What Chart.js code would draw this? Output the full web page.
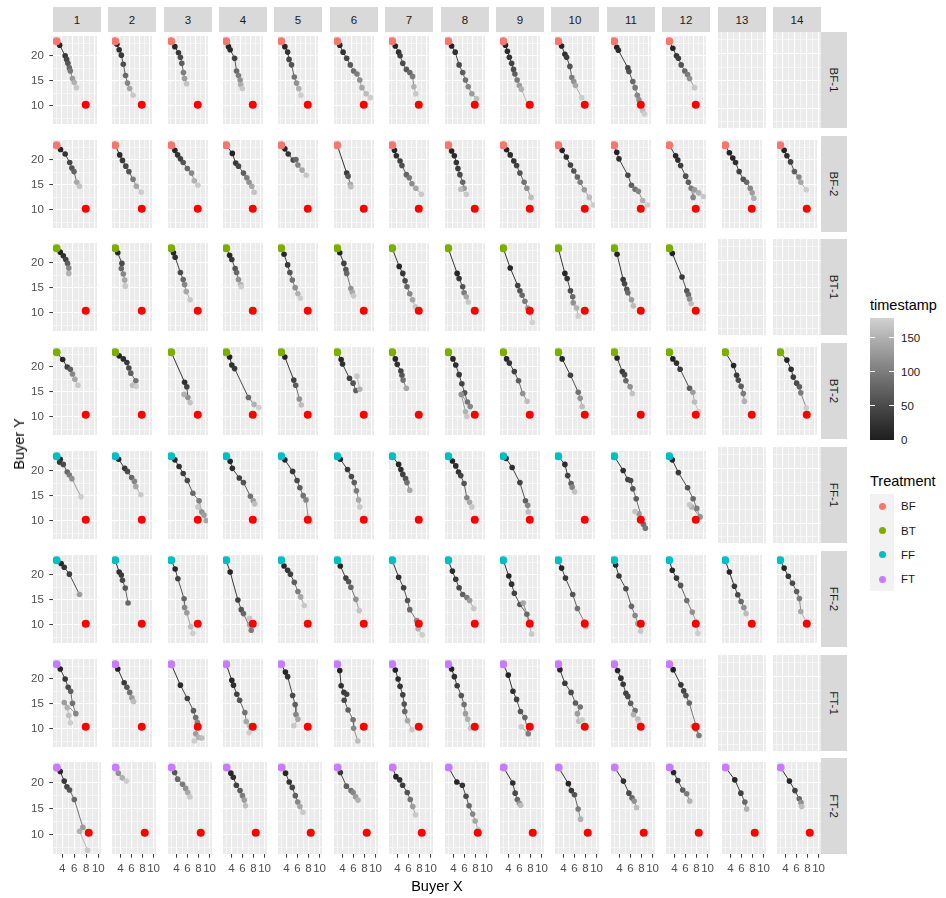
<!DOCTYPE html>
<html>
<head>
<meta charset="utf-8">
<script src="https://cdn.jsdelivr.net/npm/chart.js@4.4.0/dist/chart.umd.min.js"></script>
<style>
  body { margin: 0; background: #fff; width: 946px; height: 898px; position: relative; overflow: hidden;
         font-family: "Liberation Sans", Arial, sans-serif; }
  canvas { position: absolute; }
  .strip { position: absolute; background: #D9D9D9; color: #1A1A1A; font-size: 11.5px;
           display: flex; align-items: center; justify-content: center; }
  .strip span.v { transform: rotate(90deg); white-space: nowrap; display: inline-block; }
  .txt { position: absolute; white-space: nowrap; }
</style>
</head>
<body>
<script>
// ---- facet labels and axis ticks ----
const COLUMNS = ['1','2','3','4','5','6','7','8','9','10','11','12','13','14'];
const ROWS = ['BF-1','BF-2','BT-1','BT-2','FF-1','FF-2','FT-1','FT-2'];
const ROW_TREATMENT = ['BF','BF','BT','BT','FF','FF','FT','FT'];
const TREATMENTS = ['BF','BT','FF','FT'];
const TREATMENT_COLORS = ['#F8766D','#7CAE00','#00BFC4','#C77CFF'];
const X_TICKS = [4, 6, 8, 10];
const X_MINOR = [3, 5, 7, 9];
const Y_TICKS = [10, 15, 20];
const Y_MINOR = [7.5, 12.5, 17.5, 22.5];
const TIME_TICKS = [0, 50, 100, 150];
const TIME_MAX = 179;

// start position and target (seller) position per row
const START = [3.1, 22.9];
const TARGET_X = 8.4;
const TARGET_Y = [10.2, 10.2, 10.4, 10.4, 10.2, 10.2, 10.4, 10.4];

// buyer trajectories: one entry per session column, points are [x, y, timestamp]
const BF1 = [
  [[3.66,22.12,10],[4.66,20.0,30],[4.93,19.27,45],[5.16,18.48,60],[5.43,17.57,80],[5.6,16.96,95],[5.99,15.44,130],[6.32,14.65,150],[6.71,13.62,170]],
  [[3.43,22.3,8],[3.88,21.21,20],[4.32,20.12,35],[4.71,18.3,55],[5.16,16.05,80],[5.54,14.53,110],[5.99,13.44,140],[6.66,12.1,170]],
  [[3.82,21.82,10],[4.54,20.6,30],[4.93,19.69,50],[5.21,18.48,70],[5.54,16.66,100],[5.77,15.44,130],[6.16,14.41,165]],
  [[3.54,21.82,5],[3.88,21.21,15],[4.77,19.51,40],[5.16,16.96,80],[5.54,16.05,100],[5.88,15.14,120],[5.99,14.23,145],[6.32,13.44,170]],
  [[3.82,21.82,10],[4.38,20.73,25],[4.66,19.27,45],[5.16,18.18,60],[5.71,15.75,90],[6.16,14.53,120],[6.6,13.44,150],[7.04,12.1,175]],
  [[3.6,22.12,8],[4.27,20.72,25],[4.99,19.51,45],[5.71,18.17,65],[6.38,16.96,85],[7.04,16.35,100],[7.6,15.14,120],[8.04,13.62,140],[8.88,12.41,160],[9.71,11.62,175]],
  [[3.71,21.94,5],[4.38,20.72,20],[4.66,20.0,35],[5.21,18.48,50],[5.93,17.27,65],[6.6,16.66,80],[7.16,15.87,100],[7.43,13.8,150],[7.82,12.41,170]],
  [[3.77,21.94,5],[4.49,20.72,20],[5.27,18.17,50],[5.99,16.66,70],[6.54,15.14,90],[7.1,13.8,110],[7.82,12.41,130],[8.77,11.38,160]],
  [[3.54,22.12,5],[3.93,20.91,15],[4.32,19.69,25],[4.77,18.48,40],[5.16,17.27,55],[5.43,16.35,70],[5.88,15.14,100],[6.32,14.05,130],[6.71,13.32,150],[8.1,9.98,175]],
  [[3.77,21.94,5],[4.43,20.3,20],[4.77,19.69,35],[5.43,17.87,60],[5.82,15.63,100],[6.21,14.84,120],[6.54,14.05,140],[7.77,11.62,175]],
  [[3.6,21.7,5],[3.93,21.09,15],[5.82,17.57,45],[6.04,16.84,55],[6.82,14.84,80],[7.27,13.62,95],[7.71,12.1,110],[8.04,11.19,120],[8.38,9.98,140],[8.77,9.07,160],[9.16,8.34,175]],
  [[3.82,21.51,10],[4.54,20.0,30],[4.93,19.51,40],[5.49,18.17,60],[6.21,16.96,80],[6.77,16.23,100],[7.16,15.44,120],[8.16,13.62,170]],
  null,
  null
];
const BF2 = [
  [[3.82,22.06,10],[4.66,21.15,25],[5.49,19.45,45],[5.88,18.36,60],[6.27,17.63,75],[6.77,15.5,140],[7.27,14.71,165]],
  [[3.99,20.97,15],[4.54,19.87,30],[5.21,18.72,45],[5.82,17.63,60],[6.66,16.11,100],[7.32,14.71,140],[8.32,13.5,175]],
  [[3.82,21.88,10],[4.38,20.97,25],[4.93,20.18,40],[5.49,19.45,60],[6.32,18.24,80],[7.16,17.33,110],[7.71,15.81,150],[8.43,14.9,170]],
  [[4.32,21.27,5],[4.99,19.33,30],[5.54,18.72,45],[6.54,17.33,70],[7.21,16.41,100],[7.66,15.5,120],[8.21,14.71,140],[8.66,13.5,165]],
  [[3.82,22.18,10],[4.49,21.15,25],[5.49,19.94,50],[6.04,20.06,80],[6.43,18.96,110],[7.27,17.93,140],[8.1,16.9,170]],
  [[4.99,17.33,30],[5.27,16.72,60],[5.71,15.08,140],[5.82,14.59,160]],
  [[3.54,21.88,5],[3.93,20.79,20],[4.66,19.75,40],[5.04,18.84,55],[5.93,17.02,75],[6.49,16.41,95],[7.04,15.2,115],[7.82,14.29,140],[8.93,13.08,170]],
  [[3.77,21.76,5],[4.32,20.79,15],[4.71,19.45,25],[5.04,18.24,35],[5.43,17.02,50],[5.99,15.5,80],[6.27,14.29,130],[5.6,14.11,160],[6.71,13.08,170]],
  [[3.77,22.0,5],[4.49,20.97,15],[5.21,19.75,25],[5.77,18.84,40],[6.43,17.33,60],[7.27,15.5,90],[7.82,14.29,120],[8.66,12.47,160]],
  [[3.88,21.88,5],[4.71,20.54,20],[5.54,18.96,40],[6.21,17.75,60],[6.93,16.54,80],[7.49,15.5,100],[8.32,13.99,130],[9.32,12.47,160],[10.1,10.95,175]],
  [[3.6,21.51,5],[4.04,20.18,20],[5.82,16.9,45],[6.54,14.9,70],[7.27,14.11,90],[7.93,13.68,110],[8.77,11.86,150],[9.71,10.95,175]],
  [[4.38,20.79,10],[4.82,19.94,20],[5.38,18.84,35],[6.38,16.72,55],[6.93,15.5,70],[7.49,14.29,100],[7.88,12.47,110],[8.16,13.99,130],[9.0,13.38,150],[9.93,12.65,170]],
  [[3.93,21.39,5],[4.6,20.36,10],[5.16,19.45,20],[5.88,17.63,40],[6.71,16.11,60],[7.38,15.5,80],[8.1,14.29,110],[8.49,13.38,130],[8.82,12.29,150]],
  [[3.88,21.88,5],[4.43,20.79,20],[5.16,19.57,40],[5.93,17.63,70],[6.82,16.54,110],[7.21,15.5,140],[8.32,13.99,175]]
];
const BT1 = [
  [[3.77,22.12,5],[4.32,21.39,20],[4.77,20.66,40],[5.1,19.87,70],[5.32,18.96,110],[5.32,17.87,150]],
  [[3.6,22.0,10],[4.43,19.87,50],[4.32,18.84,80],[4.71,17.75,110],[4.99,16.54,140],[5.1,15.32,170]],
  [[3.54,22.0,10],[3.88,21.09,20],[4.93,18.06,50],[5.49,16.66,80],[5.77,15.63,110],[6.1,14.23,140],[6.88,12.59,170]],
  [[3.77,21.51,10],[4.21,20.66,30],[4.88,18.84,60],[5.16,18.06,80],[5.54,16.66,120],[5.99,15.63,150],[6.1,15.2,175]],
  [[3.66,21.7,10],[4.38,19.57,30],[4.82,18.06,60],[5.32,16.54,90],[5.88,15.02,120],[6.43,13.8,150],[6.93,12.9,175]],
  [[3.6,22.0,5],[4.43,19.87,40],[4.82,18.66,60],[4.99,17.87,80],[5.82,14.84,120],[6.1,14.11,140],[6.38,13.38,170]],
  [[4.49,19.27,10],[5.21,17.87,30],[5.66,16.41,50],[6.04,15.2,80],[6.6,13.8,110],[7.16,12.59,140],[7.71,11.19,170]],
  [[4.88,17.87,10],[5.27,16.84,30],[5.99,15.2,60],[6.27,13.99,100],[6.71,13.2,140],[7.1,12.16,170]],
  [[4.49,18.96,10],[5.99,15.44,40],[6.43,14.41,60],[6.88,13.5,80],[7.43,12.29,100],[7.99,10.95,130],[8.54,9.98,160],[8.93,8.04,180]],
  [[4.43,17.87,10],[4.88,16.84,25],[5.54,14.41,50],[5.99,13.2,80],[6.1,11.98,120],[6.77,10.95,150],[7.1,9.37,175]],
  [[3.66,21.7,5],[4.88,16.66,30],[5.16,15.81,45],[5.6,14.71,60],[5.82,13.99,80],[6.54,12.59,130],[6.93,11.38,160]],
  [[3.71,21.88,5],[5.66,17.14,30],[6.6,14.41,60],[6.93,13.62,80],[7.16,12.77,120],[7.49,11.8,160]],
  null,
  null
];
const BT2 = [
  [[4.21,21.45,10],[5.04,19.94,40],[5.6,19.51,70],[5.99,18.54,110],[6.43,17.51,140],[6.99,16.29,170]],
  [[3.88,22.18,5],[4.71,21.57,15],[5.43,20.85,30],[5.82,19.75,50],[6.21,18.72,70],[7.21,17.2,90],[6.54,16.29,160],[7.32,16.11,175]],
  [[5.77,16.9,20],[6.21,15.99,40],[6.43,13.86,120],[5.66,14.47,150],[6.88,12.83,165]],
  [[3.77,21.94,5],[4.21,20.36,20],[4.77,19.63,30],[7.54,13.86,80],[8.66,12.47,150],[9.6,11.86,175]],
  [[3.82,21.94,5],[5.6,17.33,40],[5.99,16.29,70],[6.71,13.56,120],[7.1,12.35,160]],
  [[3.88,21.45,10],[4.16,20.54,20],[5.54,17.69,40],[6.27,16.72,60],[6.82,15.26,70],[7.6,15.5,150],[7.04,18.12,170]],
  [[3.71,21.57,10],[4.1,20.48,20],[4.82,19.15,40],[5.04,18.3,60],[5.27,17.33,90],[5.93,15.69,140]],
  [[4.04,21.57,10],[4.6,20.36,20],[5.27,18.42,30],[5.82,16.6,40],[6.38,14.78,60],[6.93,12.95,90],[7.49,12.04,110],[5.71,14.47,120],[6.54,11.01,150],[6.82,10.04,170]],
  [[3.77,21.57,10],[4.32,20.73,25],[5.32,19.03,40],[6.16,17.2,70],[6.99,14.66,120],[7.88,13.08,160]],
  [[3.88,21.57,10],[5.54,18.3,40],[7.1,14.9,90],[7.49,13.68,120],[7.88,12.04,160]],
  [[3.66,21.76,5],[4.71,19.03,30],[5.16,18.42,50],[5.43,17.2,80],[6.27,15.99,120],[6.71,14.66,165]],
  [[3.82,21.57,5],[4.54,20.73,20],[5.27,19.51,35],[7.16,15.69,70],[7.82,14.9,130],[8.16,12.95,160],[8.99,11.01,175]],
  [[4.77,20.24,10],[5.38,18.3,30],[5.71,17.33,50],[6.27,16.11,70],[6.71,14.66,100],[6.93,13.08,150]],
  [[4.43,21.33,5],[5.27,19.51,20],[5.71,17.93,35],[6.38,16.72,50],[6.93,15.99,70],[7.21,14.78,100],[8.32,11.74,175]]
];
const FF1 = [
  [[3.77,22.3,10],[3.66,21.7,30],[4.32,21.27,50],[5.04,19.75,80],[5.43,19.15,100],[5.88,18.42,120],[7.54,14.78,175]],
  [[3.77,22.3,10],[4.99,20.48,30],[5.54,19.87,50],[6.38,18.66,80],[6.93,17.87,110],[7.21,16.84,140],[8.21,15.2,170]],
  [[3.82,22.18,10],[4.66,20.85,20],[5.49,19.45,35],[6.32,18.06,50],[7.43,15.5,80],[8.66,13.99,100],[9.21,11.74,120],[9.66,11.13,130],[10.1,10.04,140],[8.43,12.77,170]],
  [[3.88,21.88,10],[4.32,20.48,20],[5.71,18.54,40],[6.54,17.63,60],[7.93,14.9,90],[8.49,13.99,130],[8.77,13.38,160]],
  [[3.82,22.18,10],[5.38,19.87,30],[6.27,18.06,50],[6.82,16.6,70],[7.49,15.02,90],[8.04,14.17,110],[8.49,10.53,150],[8.93,9.74,175]],
  [[3.71,22.3,5],[5.16,20.24,30],[5.93,18.84,50],[6.49,17.63,70],[6.93,15.99,100],[7.38,14.17,140],[7.6,12.77,170]],
  [[4.38,21.27,10],[4.82,20.24,20],[5.21,19.27,40],[5.77,18.42,60],[6.04,17.63,90],[6.6,16.11,140]],
  [[3.93,21.94,5],[4.6,20.97,15],[5.16,19.75,25],[5.6,19.03,40],[6.27,17.45,60],[6.82,14.6,110],[7.38,13.68,140],[7.82,12.77,170]],
  [[3.66,22.48,5],[4.88,20.66,20],[6.43,17.63,40],[7.54,13.99,70],[7.99,13.08,110],[8.1,11.74,160]],
  [[4.43,21.27,15],[4.99,19.03,40],[5.66,17.45,70],[5.88,16.72,110],[6.38,15.81,165]],
  [[4.88,20.06,20],[5.82,18.24,40],[6.38,18.06,50],[6.82,16.41,60],[7.49,14.41,70],[8.93,9.31,85],[9.32,8.52,95],[8.04,11.38,130],[7.27,11.86,165]],
  [[3.71,22.18,10],[4.93,19.63,30],[6.77,16.6,60],[7.88,14.41,80],[8.6,12.47,100],[9.27,10.77,120],[7.6,12.77,150],[7.16,13.2,170]],
  null,
  null
];
const FF2 = [
  [[3.93,22.24,10],[4.49,21.51,25],[5.43,20.12,40],[7.27,16.05,130]],
  [[3.88,20.54,20],[4.32,19.94,35],[4.54,18.9,50],[5.1,17.33,65],[5.66,14.35,80]],
  [[3.88,21.15,10],[4.43,19.2,40],[5.66,15.2,80],[5.77,13.44,110],[6.21,12.41,130],[6.99,9.62,160],[7.43,8.28,175]],
  [[3.88,20.54,10],[5.43,14.96,40],[6.1,13.02,60],[6.54,12.23,80],[8.1,8.89,100],[7.77,9.98,140],[7.77,11.31,170]],
  [[3.66,21.76,10],[4.38,20.91,25],[4.93,20.12,40],[5.71,18.48,70],[6.43,16.66,100],[6.99,15.57,140],[7.71,13.86,170]],
  [[3.71,21.76,10],[4.82,19.33,40],[5.38,18.6,60],[5.82,17.51,80],[6.82,15.08,120],[7.49,12.83,165]],
  [[4.38,19.51,20],[5.38,17.39,40],[6.16,14.84,60],[6.6,13.02,80],[7.99,10.83,110],[8.27,9.19,150],[9.1,7.98,175]],
  [[3.93,20.73,15],[4.6,19.09,30],[5.27,17.39,50],[5.99,16.05,70],[6.82,15.44,100],[7.38,14.84,130],[8.21,13.26,170]],
  [[4.21,19.75,10],[4.77,18.12,20],[5.32,16.29,40],[6.43,14.05,60],[7.82,12.1,80],[8.38,10.47,100],[7.1,14.35,140],[8.77,8.16,170]],
  [[3.77,21.33,10],[4.54,19.33,30],[5.99,16.05,60],[6.93,13.26,90],[8.32,10.59,130],[8.6,9.62,160]],
  [[3.38,21.94,10],[4.04,19.75,30],[5.43,17.2,50],[6.54,13.68,80],[7.27,11.86,110],[7.82,10.22,140],[8.38,8.7,170]],
  [[3.71,20.91,10],[4.54,19.33,30],[5.38,17.87,60],[6.6,14.84,90],[7.71,12.53,120],[8.43,10.59,150],[8.82,8.28,175]],
  [[3.93,20.54,10],[4.93,17.69,30],[5.6,15.99,50],[6.27,14.66,80],[6.82,13.44,120],[7.27,12.23,160]],
  [[3.88,21.33,10],[4.71,19.69,30],[5.54,18.3,50],[6.38,16.66,70],[6.93,15.26,100],[7.21,12.65,140],[8.32,10.59,175]]
];
const FT1 = [
  [[3.77,21.94,10],[4.66,19.94,30],[5.21,18.3,50],[5.66,17.51,70],[5.99,15.08,90],[6.6,13.02,110],[4.49,15.26,130],[5.04,14.23,150],[5.32,12.65,160],[5.6,11.19,175]],
  [[3.6,21.94,5],[4.88,19.2,30],[5.43,18.3,60],[5.99,17.27,90],[6.43,16.17,130],[6.77,15.44,160]],
  [[4.93,18.72,15],[6.32,16.05,40],[7.54,13.62,70],[7.99,12.23,90],[8.32,11.31,110],[7.99,9.01,130],[8.54,8.28,150],[9.21,8.16,160],[7.71,7.55,175]],
  [[4.21,19.69,10],[4.54,18.72,20],[5.21,16.9,40],[5.77,15.69,60],[6.82,13.26,90],[7.1,11.44,140],[7.77,10.59,160],[7.66,9.19,175]],
  [[3.93,21.33,10],[4.38,20.42,25],[5.38,16.66,50],[5.88,14.84,70],[6.04,12.83,110],[6.43,11.92,140],[5.6,10.59,170]],
  [[3.6,21.64,5],[3.88,18.6,20],[4.43,17.27,30],[4.99,16.9,40],[4.49,15.69,50],[5.27,13.75,70],[6.27,11.8,90],[6.38,10.1,110],[7.21,7.55,160]],
  [[3.71,21.76,5],[4.27,19.94,15],[4.66,18.48,25],[5.21,16.78,40],[5.49,14.96,60],[5.6,13.44,80],[6.16,11.62,140],[7.04,9.8,170]],
  [[3.77,21.94,5],[4.32,20.42,20],[4.88,18.6,35],[5.71,16.66,60],[6.27,14.84,90],[6.54,13.02,130],[6.99,11.92,150],[7.54,10.1,170]],
  [[4.1,20.73,5],[5.04,17.51,20],[5.77,15.87,40],[6.54,13.44,60],[7.43,12.23,80],[8.1,9.01,100],[6.71,10.41,170]],
  [[3.43,21.82,10],[4.43,19.09,30],[5.66,17.27,50],[6.54,15.14,70],[7.49,14.35,90],[6.93,13.02,130],[7.21,11.5,160],[7.88,11.8,175]],
  [[3.77,21.64,10],[4.43,20.12,20],[4.88,18.9,30],[5.43,17.08,40],[5.82,16.47,50],[6.38,15.08,70],[7.27,13.62,90],[6.93,12.83,150],[7.82,11.92,160],[8.04,11.19,175]],
  [[3.88,21.82,5],[5.43,18.78,30],[5.99,17.57,45],[6.43,16.66,60],[7.1,15.14,80],[9.04,8.64,100],[8.32,9.98,120],[7.93,10.47,140]],
  null,
  null
];
const FT2 = [
  [[3.66,22.12,10],[4.32,20.3,30],[4.77,19.2,45],[5.21,18.6,60],[6.0,16.78,80],[7.43,11.44,130],[6.88,10.71,150],[8.21,7.06,170]],
  [[3.6,21.82,120],[4.32,20.91,150],[5.1,20.3,175]],
  [[3.66,21.94,60],[4.21,20.67,80],[5.1,19.69,100],[5.66,18.9,120],[6.04,18.12,140],[6.43,17.27,170]],
  [[3.88,21.82,10],[4.32,21.03,20],[4.88,19.51,40],[5.54,18.48,70],[5.99,17.51,100],[6.32,16.66,130],[6.54,15.57,160]],
  [[3.82,21.82,10],[4.49,20.12,25],[5.04,19.09,45],[5.6,17.51,70],[6.04,16.29,110],[6.43,15.44,140],[6.99,14.35,170]],
  [[3.6,21.94,30],[4.71,19.33,70],[5.54,18.48,90],[5.93,18.12,110],[6.38,17.27,130],[6.82,16.66,150]],
  [[3.71,21.15,5],[4.38,20.54,20],[4.93,19.51,35],[5.77,18.12,60],[6.32,16.78,90],[6.77,15.44,130],[7.27,13.86,170]],
  [[4.6,20.12,10],[5.6,19.51,25],[6.27,17.39,50],[6.82,15.57,80],[7.49,13.99,110],[7.93,12.65,140],[8.49,11.01,170]],
  [[4.77,19.94,20],[5.21,17.99,50],[5.6,16.78,80],[5.99,16.05,120],[6.21,15.69,160]],
  [[4.88,19.81,10],[5.43,18.48,30],[5.99,17.69,60],[6.66,14.96,100],[7.1,13.02,150]],
  [[4.71,20.3,20],[5.71,17.99,50],[6.27,17.08,80],[6.66,16.47,120],[7.1,15.26,160]],
  [[3.82,21.94,10],[4.6,20.42,30],[5.49,18.6,70],[6.21,17.87,100],[6.77,16.47,150]],
  [[4.77,20.54,10],[5.88,17.99,40],[6.6,16.29,80],[6.93,14.96,150]],
  [[4.71,20.3,10],[5.71,18.48,40],[6.49,16.9,80],[6.82,16.17,120],[6.93,15.44,160]]
];
const ROW_DATA = [BF1, BF2, BT1, BT2, FF1, FF2, FT1, FT2];

// ---- layout ----
const FONT = '"Liberation Sans", Arial, sans-serif';
const PANEL_X0 = 52.7, PANEL_DX = 55.4, PANEL_W = 48;
const PANEL_Y0 = 31.7, PANEL_DY = 103.8, PANEL_H = 96;
const X_MIN = 2.45, X_MAX = 10.45, Y_MIN = 6.35, Y_MAX = 23.95;
const AXIS_W = 40, AXIS_H = 28, BOTTOM_PAD_R = 8;

// timestamp colour scale (interpolated in CIE L*)
const GREY_LOW = 0x1e, GREY_HIGH = 0xd2;
function greyToL(v) {
  let c = v / 255;
  c = c <= 0.04045 ? c / 12.92 : Math.pow((c + 0.055) / 1.055, 2.4);
  return c > 0.008856 ? 116 * Math.cbrt(c) - 16 : 903.3 * c;
}
function lToGrey(L) {
  const y = L > 8 ? Math.pow((L + 16) / 116, 3) : L / 903.3;
  const c = y <= 0.0031308 ? 12.92 * y : 1.055 * Math.pow(y, 1 / 2.4) - 0.055;
  return Math.round(Math.max(0, Math.min(1, c)) * 255);
}
const L_LOW = greyToL(GREY_LOW), L_HIGH = greyToL(GREY_HIGH);
function timeColor(t) {
  const f = Math.max(0, Math.min(1, t / TIME_MAX));
  const g = lToGrey(L_LOW + (L_HIGH - L_LOW) * f);
  return `rgb(${g},${g},${g})`;
}

// grey panel background behind the grid
Chart.register({
  id: 'panelBackground',
  beforeDraw(chart) {
    const a = chart.chartArea, ctx = chart.ctx;
    ctx.save();
    ctx.fillStyle = '#EBEBEB';
    ctx.fillRect(a.left, a.top, a.right - a.left, a.bottom - a.top);
    ctx.restore();
  }
});

const X_GRID = [...X_MINOR, ...X_TICKS].sort((a, b) => a - b);
const Y_GRID = [...Y_MINOR, ...Y_TICKS].sort((a, b) => a - b);

function zeroPadding(s) { s.paddingLeft = 0; s.paddingRight = 0; s.paddingTop = 0; s.paddingBottom = 0; }

function makePanel(r, c) {
  const pts = ROW_DATA[r][c];
  const isLeft = c === 0, isBottom = r === ROWS.length - 1;
  const axW = isLeft ? AXIS_W : 0, axH = isBottom ? AXIS_H : 0, padR = isBottom ? BOTTOM_PAD_R : 0;
  const left = Math.round(PANEL_X0 + c * PANEL_DX), top = Math.round(PANEL_Y0 + r * PANEL_DY);
  const cv = document.createElement('canvas');
  cv.width = PANEL_W + axW + padR;
  cv.height = PANEL_H + axH;
  cv.style.left = (left - axW) + 'px';
  cv.style.top = top + 'px';
  document.body.appendChild(cv);

  const datasets = [];
  if (pts) {
    const path = [[START[0], START[1], 0], ...pts];
    const treatIdx = TREATMENTS.indexOf(ROW_TREATMENT[r]);
    datasets.push({ label: 'target', data: [{ x: TARGET_X, y: TARGET_Y[r] }], showLine: false,
      pointRadius: 4, pointBackgroundColor: '#FF0000', pointBorderWidth: 0, order: 0 });
    datasets.push({ label: 'start', data: [{ x: START[0], y: START[1] }], showLine: false,
      pointRadius: 4, pointBackgroundColor: TREATMENT_COLORS[treatIdx], pointBorderWidth: 0, order: 1 });
    datasets.push({ label: 'buyer', data: pts.map(p => ({ x: p[0], y: p[1] })), showLine: false,
      pointRadius: 2.8, pointBackgroundColor: pts.map(p => timeColor(p[2])), pointBorderWidth: 0, order: 2 });
    datasets.push({ label: 'path', data: path.map(p => ({ x: p[0], y: p[1] })), showLine: true,
      pointRadius: 0, borderWidth: 0.9, borderColor: '#333',
      segment: { borderColor: ctx => timeColor(path[ctx.p0DataIndex][2]) }, order: 3 });
  }

  new Chart(cv, {
    type: 'scatter',
    data: { datasets },
    options: {
      responsive: false, animation: false, events: [],
      layout: { padding: { left: 0, right: padR, top: 0, bottom: 0 } },
      plugins: { legend: { display: false }, tooltip: { enabled: false } },
      scales: {
        x: {
          type: 'linear', min: X_MIN, max: X_MAX, bounds: 'data',
          border: { display: false },
          afterBuildTicks: s => { s.ticks = X_GRID.map(v => ({ value: v })); },
          afterFit: s => { s.height = axH; zeroPadding(s); },
          grid: {
            color: '#FFFFFF',
            lineWidth: ctx => X_TICKS.includes(ctx.tick.value) ? 1.1 : 0.55,
            drawTicks: isBottom, tickLength: 3.7, tickWidth: 1,
            tickColor: ctx => X_TICKS.includes(ctx.tick.value) ? '#333333' : 'rgba(0,0,0,0)'
          },
          ticks: {
            display: isBottom, autoSkip: false, maxRotation: 0, padding: 4,
            color: '#4D4D4D', font: { family: FONT, size: 11.5 },
            callback: v => X_TICKS.includes(v) ? String(v) : ''
          }
        },
        y: {
          type: 'linear', min: Y_MIN, max: Y_MAX, bounds: 'data',
          border: { display: false },
          afterBuildTicks: s => { s.ticks = Y_GRID.map(v => ({ value: v })); },
          afterFit: s => { s.width = axW; zeroPadding(s); },
          grid: {
            color: '#FFFFFF',
            lineWidth: ctx => Y_TICKS.includes(ctx.tick.value) ? 1.1 : 0.55,
            drawTicks: isLeft, tickLength: 3.7, tickWidth: 1,
            tickColor: ctx => Y_TICKS.includes(ctx.tick.value) ? '#333333' : 'rgba(0,0,0,0)'
          },
          ticks: {
            display: isLeft, autoSkip: false, padding: 5.5,
            color: '#4D4D4D', font: { family: FONT, size: 11.5 },
            callback: v => Y_TICKS.includes(v) ? String(v) : ''
          }
        }
      }
    }
  });
}

function addDiv(cls, text, css) {
  const d = document.createElement('div');
  d.className = cls;
  if (text !== null) d.textContent = text;
  Object.assign(d.style, css);
  document.body.appendChild(d);
  return d;
}

// column strips
COLUMNS.forEach((lab, c) => {
  addDiv('strip', lab, { left: Math.round(PANEL_X0 + c * PANEL_DX) + 'px', top: '7px',
    width: PANEL_W + 'px', height: (Math.round(PANEL_Y0) - 7) + 'px' });
});
// row strips
ROWS.forEach((lab, r) => {
  const d = addDiv('strip', null, { left: '821px', top: Math.round(PANEL_Y0 + r * PANEL_DY) + 'px',
    width: '26px', height: PANEL_H + 'px' });
  const s = document.createElement('span');
  s.className = 'v';
  s.textContent = lab;
  d.appendChild(s);
});

// panels
for (let r = 0; r < ROWS.length; r++)
  for (let c = 0; c < COLUMNS.length; c++) makePanel(r, c);

// axis titles
addDiv('txt', 'Buyer X', { left: '437px', top: '886px', fontSize: '14.5px', color: '#000',
  transform: 'translate(-50%,-50%)' });
addDiv('txt', 'Buyer Y', { left: '19px', top: '444px', fontSize: '14.5px', color: '#000',
  transform: 'translate(-50%,-50%) rotate(-90deg)' });

// timestamp colourbar legend
const BAR_LEFT = 870, BAR_TOP = 318, BAR_W = 24, BAR_H = 122;
addDiv('txt', 'timestamp', { left: BAR_LEFT + 'px', top: '305px', fontSize: '14.5px', color: '#000',
  transform: 'translateY(-50%)' });
const stops = [];
for (let i = 0; i <= 10; i++) stops.push(timeColor(TIME_MAX * (1 - i / 10)) + ' ' + (i * 10) + '%');
addDiv('txt', null, { left: BAR_LEFT + 'px', top: BAR_TOP + 'px', width: BAR_W + 'px', height: BAR_H + 'px',
  background: 'linear-gradient(to bottom,' + stops.join(',') + ')' });
TIME_TICKS.forEach(v => {
  const y = BAR_TOP + BAR_H - (v / TIME_MAX) * BAR_H;
  addDiv('txt', null, { left: BAR_LEFT + 'px', top: (y - 0.5) + 'px', width: '5px', height: '1px', background: '#fff' });
  addDiv('txt', null, { left: (BAR_LEFT + BAR_W - 5) + 'px', top: (y - 0.5) + 'px', width: '5px', height: '1px', background: '#fff' });
  addDiv('txt', String(v), { left: '901px', top: y + 'px', fontSize: '11.5px', color: '#1A1A1A',
    transform: 'translateY(-50%)' });
});

// treatment legend
addDiv('txt', 'Treatment', { left: BAR_LEFT + 'px', top: '481px', fontSize: '14.5px', color: '#000',
  transform: 'translateY(-50%)' });
TREATMENTS.forEach((t, i) => {
  const top = 494 + i * 24.35;
  addDiv('txt', null, { left: BAR_LEFT + 'px', top: top + 'px', width: '24px', height: '24.35px', background: '#F2F2F2' });
  addDiv('txt', null, { left: (BAR_LEFT + 12 - 3.5) + 'px', top: (top + 12.2 - 3.5) + 'px', width: '7px', height: '7px',
    borderRadius: '50%', background: TREATMENT_COLORS[i] });
  addDiv('txt', t, { left: '901px', top: (top + 12.2) + 'px', fontSize: '11.5px', color: '#1A1A1A',
    transform: 'translateY(-50%)' });
});
</script>
</body>
</html>
